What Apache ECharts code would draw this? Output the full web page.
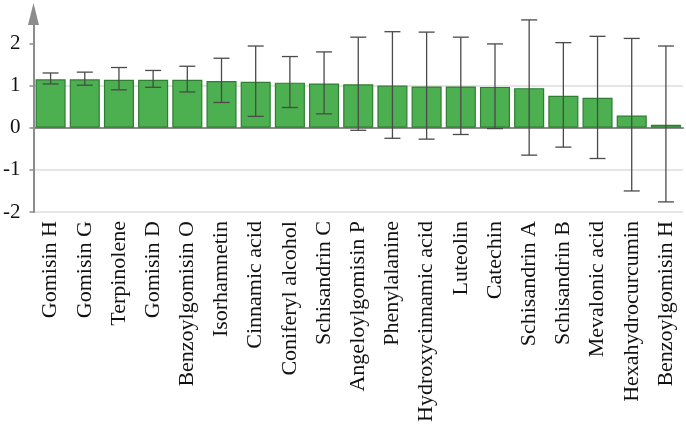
<!DOCTYPE html>
<html>
<head>
<meta charset="utf-8">
<script src="https://cdn.jsdelivr.net/npm/echarts@6/dist/echarts.min.js"></script>
<style>
  html, body { margin: 0; padding: 0; background: #fff; }
  #chartDom { width: 686px; height: 425px; }
</style>
</head>
<body>
<div id="chartDom"></div>
<script>
// compounds, in plotted order
const categories = ['Gomisin H', 'Gomisin G', 'Terpinolene', 'Gomisin D', 'Benzoylgomisin O',
  'Isorhamnetin', 'Cinnamic acid', 'Coniferyl alcohol', 'Schisandrin C', 'Angeloylgomisin P',
  'Phenylalanine', 'Hydroxycinnamic acid', 'Luteolin', 'Catechin', 'Schisandrin A',
  'Schisandrin B', 'Mevalonic acid', 'Hexahydrocurcumin', 'Benzoylgomisin H'];
const means = [1.15, 1.15, 1.14, 1.14, 1.14, 1.11, 1.09, 1.07, 1.05, 1.03,
  1.00, 0.98, 0.98, 0.97, 0.94, 0.76, 0.71, 0.29, 0.07];
const upper = [1.30, 1.32, 1.43, 1.36, 1.46, 1.65, 1.94, 1.69, 1.80, 2.15,
  2.28, 2.27, 2.15, 1.99, 2.56, 2.02, 2.17, 2.12, 1.94];
const lower = [1.04, 1.01, 0.90, 0.96, 0.85, 0.60, 0.27, 0.48, 0.33, -0.06,
  -0.25, -0.27, -0.16, -0.02, -0.65, -0.46, -0.73, -1.50, -1.76];
const yTicks = [-2, -1, 0, 1, 2];

const font = "'Liberation Serif', 'Times New Roman', serif";
const axisGray = '#8c8c8c';

const errData = categories.map((c, i) => [i, lower[i], upper[i]]);

const option = {
  animation: false,
  grid: { left: 31, right: 3, top: 14, bottom: 211, containLabel: false },
  xAxis: {
    type: 'category',
    data: categories,
    axisLine: { lineStyle: { color: axisGray, width: 2 } },
    axisTick: { alignWithLabel: true, length: 6, lineStyle: { color: axisGray, width: 1.5 } },
    axisLabel: { rotate: 90, margin: 9, color: '#111', fontFamily: font, fontSize: 22, interval: 0 }
  },
  yAxis: {
    type: 'value',
    min: -2,
    max: 2.7,
    interval: 1,
    axisLine: {
      show: true,
      symbol: ['none', 'triangle'],
      symbolSize: [11, 22],
      lineStyle: { color: axisGray, width: 2 }
    },
    axisTick: { show: true, length: 4, customValues: yTicks, lineStyle: { color: axisGray, width: 1.5 } },
    axisLabel: { customValues: yTicks, margin: 13, color: '#111', fontFamily: font, fontSize: 21 },
    splitLine: { show: true, showMaxLine: false, lineStyle: { color: '#dcdcdc', width: 1.5 } }
  },
  series: [
    {
      type: 'bar',
      data: means,
      barCategoryGap: '12%',
      itemStyle: { color: '#4caf50', borderColor: '#2e7d32', borderWidth: 1.2 }
    },
    {
      type: 'custom',
      data: errData,
      z: 10,
      renderItem: function (params, api) {
        const lo = api.coord([api.value(0), api.value(1)]);
        const hi = api.coord([api.value(0), api.value(2)]);
        const cap = 8;
        const style = { stroke: '#4a4a4a', lineWidth: 1.3 };
        return {
          type: 'group',
          children: [
            { type: 'line', shape: { x1: hi[0], y1: hi[1], x2: lo[0], y2: lo[1] }, style: style },
            { type: 'line', shape: { x1: hi[0] - cap, y1: hi[1], x2: hi[0] + cap, y2: hi[1] }, style: style },
            { type: 'line', shape: { x1: lo[0] - cap, y1: lo[1], x2: lo[0] + cap, y2: lo[1] }, style: style }
          ]
        };
      }
    }
  ]
};

var myChart = echarts.init(document.getElementById('chartDom'));
myChart.setOption(option);
</script>
</body>
</html>
